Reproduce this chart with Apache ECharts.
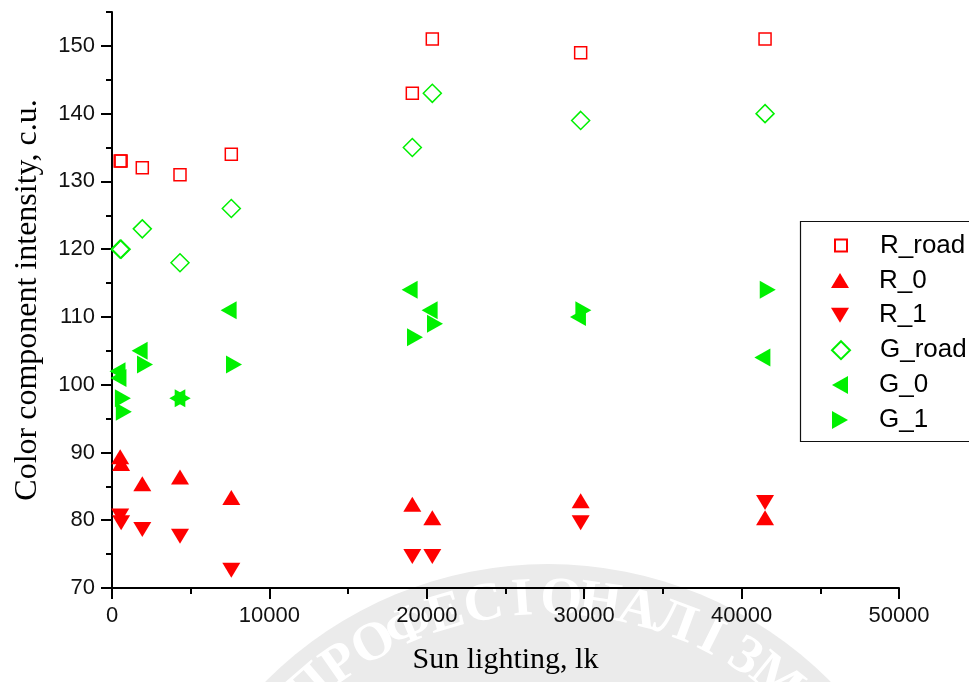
<!DOCTYPE html>
<html><head><meta charset="utf-8">
<script src="https://cdn.jsdelivr.net/npm/echarts@6/dist/echarts.min.js"></script>
<style>html,body{margin:0;padding:0;background:#fff}#c{width:969px;height:682px}</style>
</head><body><div id="c"></div>
<script>
// ---- data ----
const sunLux = [520, 580, 1925, 4320, 7580, 19080, 20350, 29775, 41490];
const R_road = [133, 133, 132, 131, 134, 143, 151, 149, 151];
const R_0    = [89, 88, 85, 86, 83, 82, 80, 82.5, 80];
const R_1    = [81, 80, 79, 78, 73, 75, 75, 80, 83];
const G_road = [120, 120, 123, 118, 126, 135, 143, 139, 140];
const G_0    = [102, 101, 105, 98, 111, 114, 111, 110, 104];
const G_1    = [98, 96, 103, 98, 103, 107, 109, 111, 114];
const seriesNames = ['R_road', 'R_0', 'R_1', 'G_road', 'G_0', 'G_1'];
const xTicks = [0, 10000, 20000, 30000, 40000, 50000];
const xMinorTicks = [5000, 15000, 25000, 35000, 45000];
const yTicks = [70, 80, 90, 100, 110, 120, 130, 140, 150];
const yMinorTicks = [75, 85, 95, 105, 115, 125, 135, 145, 155];
const xName = 'Sun lighting, lk';
const yName = 'Color component intensity, c.u.';
const watermarkText = 'ПРОФЕСІОНАЛІЗМ';

// ---- styles ----
const RED = '#ff0000', GREEN = '#00f000';
const valuesBySeries = {R_road, R_0, R_1, G_road, G_0, G_1};
const styleBySeries = {
  R_road: {symbol: 'rect', size: [12, 12], offset: [0, 0], color: RED, empty: true},
  R_0:    {symbol: 'path://M1,0L2,2L0,2Z', size: [18, 15], offset: [0, -2.5], color: RED},
  R_1:    {symbol: 'path://M0,0L2,0L1,2Z', size: [18, 15], offset: [0, 2.5], color: RED},
  G_road: {symbol: 'diamond', size: [18, 18], offset: [0, 0], color: GREEN, empty: true},
  G_0:    {symbol: 'path://M0,1L2,0L2,2Z', size: [16, 18], offset: [-2.7, 0], color: GREEN},
  G_1:    {symbol: 'path://M0,0L2,1L0,2Z', size: [16, 18], offset: [2.7, 0], color: GREEN}
};

const series = seriesNames.map(name => {
  const st = styleBySeries[name];
  return {
    name, type: 'scatter',
    data: sunLux.map((x, i) => [x, valuesBySeries[name][i]]),
    symbol: st.symbol, symbolSize: st.size, symbolOffset: st.offset,
    symbolKeepAspect: false,
    itemStyle: st.empty
      ? {color: 'rgba(255,255,255,0)', borderColor: st.color, borderWidth: 1.5, opacity: 1}
      : {color: st.color, borderWidth: 0, opacity: 1},
    emphasis: {disabled: true},
    z: 3
  };
});

// legend: one component per row so each icon keeps its own size
const LEG_LEFT = 800, LEG_TOP = 221, SYM_CX = 840, TEXT_X = 879;
const rowCenters = [245.5, 280.4, 315.3, 350.2, 385.1, 420.0];
const legends = seriesNames.map((name, i) => {
  const [w, h] = styleBySeries[name].size;
  const left = SYM_CX - w / 2;
  return {
    data: [name], orient: 'vertical', left, top: rowCenters[i] - 15,
    itemWidth: w, itemHeight: h, padding: 0, symbolKeepAspect: false,
    selectedMode: false,
    textStyle: {fontFamily: 'Liberation Sans, Arial, sans-serif', fontSize: 26, color: '#000',
      lineHeight: 30, padding: [0, 0, 0, TEXT_X - (left + w + 5)]}
  };
});

// faint seal watermark in the background of the scanned figure
const WM_CX = 548, WM_CY = 962, WM_R = 398, WM_TEXT_R = 362;
const wmLetters = Array.from(watermarkText);
const wmStart = -41, wmEnd = 39;
const watermark = [{
  type: 'circle', z: -10, silent: true,
  shape: {cx: WM_CX, cy: WM_CY, r: WM_R},
  style: {fill: '#ebebeb'}
}].concat(wmLetters.map((ch, i) => {
  const ang = (wmStart + (wmEnd - wmStart) * i / (wmLetters.length - 1)) * Math.PI / 180;
  return {
    type: 'text', z: -9, silent: true,
    x: WM_CX + WM_TEXT_R * Math.sin(ang), y: WM_CY - WM_TEXT_R * Math.cos(ang),
    rotation: -ang,
    style: {text: ch, fill: '#ffffff', font: 'bold 54px "Liberation Serif", serif',
      align: 'center', verticalAlign: 'middle'}
  };
}));

const axisCommon = {
  axisLine: {show: true, lineStyle: {color: '#000', width: 2}},
  splitLine: {show: false},
};
const labelFont = {fontFamily: 'Liberation Sans, Arial, sans-serif', fontSize: 22, color: '#111'};

const option = {
  backgroundColor: '#fff',
  animation: false,
  grid: {left: 112, right: 70, top: 12, bottom: 94, containLabel: false},
  legend: legends,
  graphic: watermark.concat([{
    type: 'rect', z: 10, silent: true,
    shape: {x: LEG_LEFT + 0.5, y: LEG_TOP + 0.5, width: 200, height: 220},
    style: {fill: 'rgba(0,0,0,0)', stroke: '#111', lineWidth: 1.2}
  }]),
  xAxis: [{
    type: 'value', min: 0, max: 50000, interval: 10000, position: 'bottom',
    ...axisCommon,
    axisTick: {show: true, length: 11, lineStyle: {color: '#000', width: 2}, customValues: xTicks},
    axisLabel: {...labelFont, margin: 17, customValues: xTicks, formatter: v => String(v)},
    name: xName, nameLocation: 'middle', nameGap: 57,
    nameTextStyle: {fontFamily: 'Liberation Serif, Times New Roman, serif', fontSize: 30, color: '#000'}
  }, {
    type: 'value', min: 0, max: 50000, interval: 10000, position: 'bottom',
    axisLine: {show: false}, splitLine: {show: false}, axisLabel: {show: false},
    axisTick: {show: true, length: 6, lineStyle: {color: '#000', width: 2}, customValues: xMinorTicks}
  }],
  yAxis: [{
    type: 'value', min: 70, max: 155, interval: 10, position: 'left',
    ...axisCommon,
    axisTick: {show: true, length: 11, lineStyle: {color: '#000', width: 2}, customValues: yTicks},
    axisLabel: {...labelFont, margin: 17, customValues: yTicks, formatter: v => String(v)},
    name: yName, nameLocation: 'middle', nameGap: 68, nameRotate: 90,
    nameTextStyle: {fontFamily: 'Liberation Serif, Times New Roman, serif', fontSize: 32, color: '#000'}
  }, {
    type: 'value', min: 70, max: 155, interval: 5, position: 'left',
    axisLine: {show: false}, splitLine: {show: false}, axisLabel: {show: false},
    axisTick: {show: true, length: 6, lineStyle: {color: '#000', width: 2}, customValues: yMinorTicks}
  }],
  series
};

const chart = echarts.init(document.getElementById('c'), null, {renderer: 'canvas'});
chart.setOption(option);
</script>
</body></html>
